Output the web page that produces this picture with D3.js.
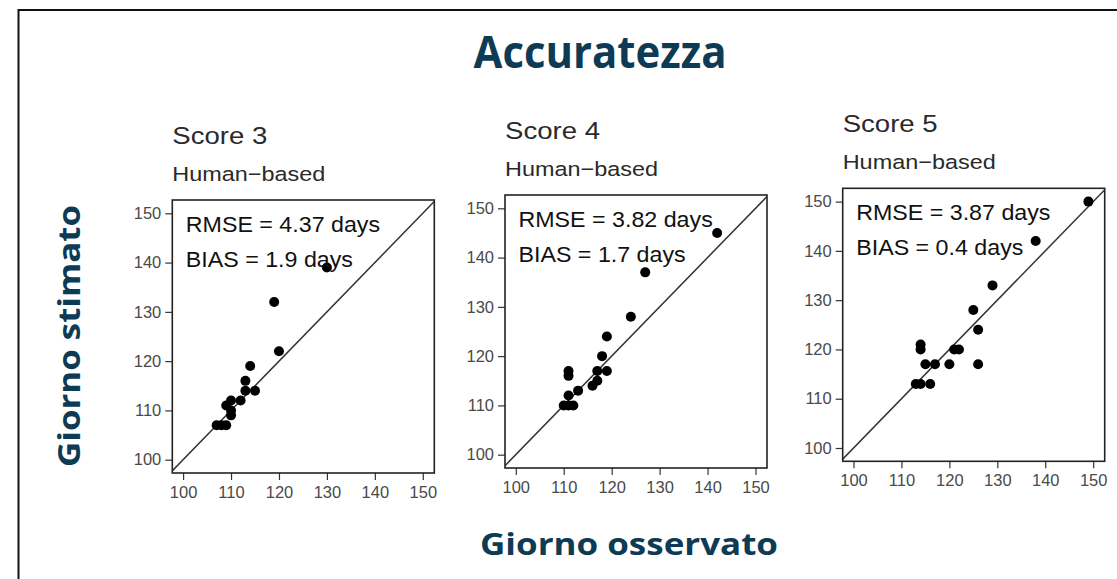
<!DOCTYPE html>
<html>
<head>
<meta charset="utf-8">
<script src="https://cdn.jsdelivr.net/npm/d3@7"></script>
<style>
  html, body { margin: 0; padding: 0; background: #fff; }
  svg { display: block; }
</style>
</head>
<body>
<svg id="chart" width="1117" height="579"></svg>
<script>
// ---- data ----
const panelTitles = ["Score 3", "Score 4", "Score 5"];
const panelSubtitle = "Human\u2212based";
const rmseLabels = ["RMSE = 4.37 days", "RMSE = 3.82 days", "RMSE = 3.87 days"];
const biasLabels = ["BIAS = 1.9 days", "BIAS = 1.7 days", "BIAS = 0.4 days"];

const obs3 = [107, 108, 109, 110, 110, 109, 110, 112, 113, 115, 113, 114, 120, 119, 130];
const est3 = [107, 107, 107, 109, 110, 111, 112, 112, 114, 114, 116, 119, 122, 132, 139];

const obs4 = [110, 111, 112, 111, 113, 111, 111, 116, 117, 117, 119, 118, 119, 124, 127, 142];
const est4 = [110, 110, 110, 112, 113, 116, 117, 114, 115, 117, 117, 120, 124, 128, 137, 145];

const obs5 = [113, 114, 116, 115, 117, 120, 126, 114, 114, 121, 122, 126, 125, 129, 138, 149];
const est5 = [113, 113, 113, 117, 117, 117, 117, 120, 121, 120, 120, 124, 128, 133, 142, 150];

const tickValues = [100, 110, 120, 130, 140, 150];
const mainTitle = "Accuratezza";
const xAxisTitle = "Giorno osservato";
const yAxisTitle = "Giorno stimato";

// ---- layout ----
const svg = d3.select("#chart");
const W = 1117, H = 579;
const titleColor = "#0d3b55";
const arial = "'Liberation Sans', Arial, sans-serif";

// slide frame
svg.append("path")
  .attr("d", `M${W + 2},10 L18.5,10 L18.5,${H + 2}`)
  .attr("fill", "none").attr("stroke", "#111").attr("stroke-width", 2);

svg.append("text")
  .attr("x", 600).attr("y", 68)
  .attr("text-anchor", "middle")
  .attr("font-family", "'Open Sans', sans-serif")
  .attr("font-weight", 700).attr("font-size", 44)
  .attr("fill", titleColor)
  .attr("textLength", 253).attr("lengthAdjust", "spacingAndGlyphs")
  .text(mainTitle);

svg.append("text")
  .attr("x", 629).attr("y", 555)
  .attr("text-anchor", "middle")
  .attr("font-family", "'Open Sans', sans-serif")
  .attr("font-weight", 700).attr("font-size", 31)
  .attr("fill", titleColor)
  .attr("textLength", 298).attr("lengthAdjust", "spacingAndGlyphs")
  .text(xAxisTitle);

svg.append("text")
  .attr("transform", "translate(80,336) rotate(-90)")
  .attr("text-anchor", "middle")
  .attr("font-family", "'Open Sans', sans-serif")
  .attr("font-weight", 700).attr("font-size", 31)
  .attr("fill", titleColor)
  .attr("textLength", 262).attr("lengthAdjust", "spacingAndGlyphs")
  .text(yAxisTitle);

const panels = [
  { left: 172.3, top: 200, obs: obs3, est: est3 },
  { left: 505, top: 195, obs: obs4, est: est4 },
  { left: 842.7, top: 188.3, obs: obs5, est: est5 }
];
const pw = 262, ph = 273;
const xDomain = [97.75, 152.4];
const yDomain = [97.3, 152.7];

function stretch(sel, k) {
  sel.each(function () {
    const L = this.getComputedTextLength();
    d3.select(this).attr("textLength", L * k).attr("lengthAdjust", "spacingAndGlyphs");
  });
}

panels.forEach((p, i) => {
  const g = svg.append("g").attr("transform", `translate(${p.left},${p.top})`);
  const x = d3.scaleLinear().domain(xDomain).range([0, pw]);
  const y = d3.scaleLinear().domain(yDomain).range([ph, 0]);

  // titles
  g.append("text").attr("x", 0).attr("y", -56)
    .attr("font-family", arial)
    .attr("font-size", 24).attr("fill", "#2a2a2a")
    .attr("textLength", 95).attr("lengthAdjust", "spacingAndGlyphs")
    .text(panelTitles[i]);
  g.append("text").attr("x", 0).attr("y", -19)
    .attr("font-family", arial)
    .attr("font-size", 20.5).attr("fill", "#2a2a2a")
    .attr("textLength", 153).attr("lengthAdjust", "spacingAndGlyphs")
    .text(panelSubtitle);

  // axes
  const xAxis = d3.axisBottom(x).tickValues(tickValues).tickSize(7).tickPadding(3).tickSizeOuter(0);
  const yAxis = d3.axisLeft(y).tickValues(tickValues).tickSize(7).tickPadding(4).tickSizeOuter(0);
  const gx = g.append("g").attr("transform", `translate(0,${ph})`).call(xAxis);
  const gy = g.append("g").call(yAxis);
  [gx, gy].forEach(ax => {
    ax.select(".domain").remove();
    ax.selectAll(".tick line").attr("stroke", "#333").attr("stroke-width", 1.2);
    ax.selectAll(".tick text")
      .attr("font-family", arial)
      .attr("font-size", 16.5).attr("fill", "#4a4a4a");
  });
  gx.selectAll(".tick text").attr("dy", "0.9em");

  // clip
  const cid = "clip" + i;
  g.append("clipPath").attr("id", cid)
    .append("rect").attr("width", pw).attr("height", ph);

  // 1:1 line
  g.append("line")
    .attr("clip-path", `url(#${cid})`)
    .attr("x1", x(90)).attr("y1", y(90))
    .attr("x2", x(160)).attr("y2", y(160))
    .attr("stroke", "#333").attr("stroke-width", 1.5);

  // points
  const pts = p.obs.map((o, k) => ({ o, e: p.est[k] }));
  g.append("g").selectAll("circle").data(pts).join("circle")
    .attr("cx", d => x(d.o)).attr("cy", d => y(d.e))
    .attr("r", 5).attr("fill", "#000");

  // stats text
  const t1 = g.append("text").attr("x", 13.5).attr("y", 32)
    .attr("font-family", arial)
    .attr("font-size", 21.5).attr("fill", "#111")
    .text(rmseLabels[i]);
  const t2 = g.append("text").attr("x", 13.5).attr("y", 67)
    .attr("font-family", arial)
    .attr("font-size", 21.5).attr("fill", "#111")
    .text(biasLabels[i]);
  stretch(t1, 1.08);
  stretch(t2, 1.08);

  // box
  g.append("rect").attr("width", pw).attr("height", ph)
    .attr("fill", "none").attr("stroke", "#222").attr("stroke-width", 1.6);
});
</script>
</body>
</html>
